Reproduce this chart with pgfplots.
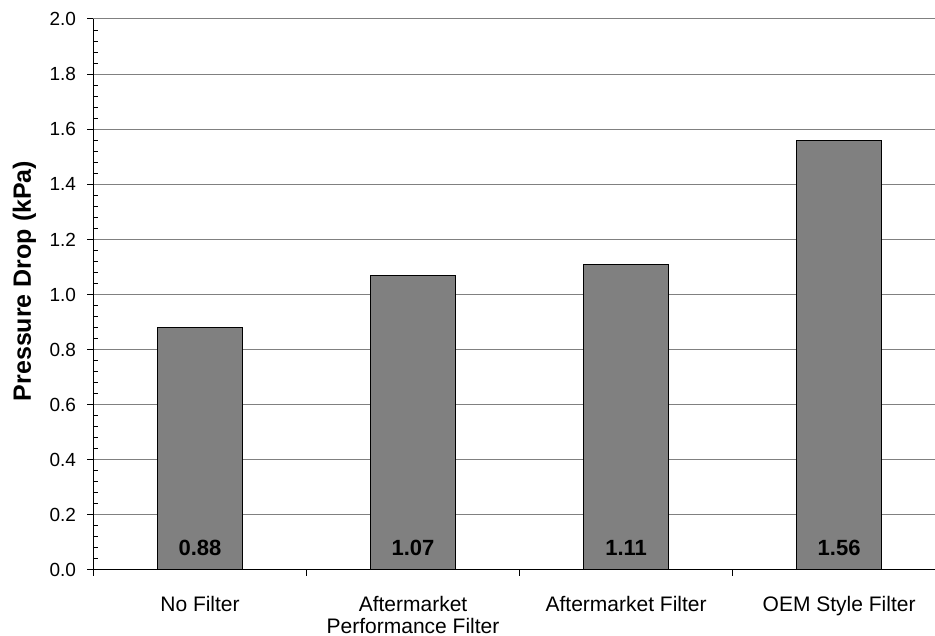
\documentclass[border=0pt]{standalone}
\usepackage{fontspec}
\setmainfont{Liberation Sans}
\usepackage{pgfplots}
\pgfplotsset{compat=1.18}
\definecolor{barfill}{HTML}{808080}
\definecolor{gridc}{HTML}{808080}
\newcommand{\twolines}[2]{\vtop{\halign{\hfil##\hfil\cr #1\cr #2\cr}}}
\begin{document}
\begin{tikzpicture}
    \begin{axis}[
            at={(0,0)}, anchor=south west,
            scale only axis, width=841.5pt, height=551pt,
            xmin=-0.5, xmax=3.45, ymin=0, ymax=2,
            axis x line*=bottom, axis y line*=left,
            axis line style={black, line width=1pt},
            xtick={0,1,2,3},
            xticklabels={No Filter, {\twolines{Aftermarket}{Performance Filter}}, Aftermarket Filter, OEM Style Filter},
            xtick style={draw=none},
            extra x ticks={-0.5,0.5,1.5,2.5},
            extra x tick labels={},
            extra x tick style={xtick style={draw=black, line width=1pt}, grid=none},
            ytick={0,0.2,...,2.0},
            minor y tick num=4,
            tick align=outside, major tick length=6pt, minor tick length=5pt,
            tick style={black, line width=1pt},
            minor y tick style={xshift=5pt},
            ymajorgrids, major y grid style={gridc, line width=1pt},
            yticklabel style={font=\fontsize{19}{22}\selectfont, xshift=-8pt,
                /pgf/number format/.cd, fixed, fixed zerofill, precision=1, assume math mode=true},
            xticklabel style={font=\fontsize{21}{22}\selectfont, anchor=base, inner sep=0pt, yshift=-36pt},
            ylabel={Pressure Drop (kPa)},
            ylabel style={font=\fontsize{25}{30}\selectfont\bfseries,
                at={(axis description cs:-0.082,0.5245)}, anchor=center},
        ]
        \addplot[ybar, bar width=85pt, fill=barfill, draw=black, line width=1pt] coordinates {
            (0, 0.88)
            (1, 1.07)
            (2, 1.11)
            (3, 1.56)
        };
        \addplot[draw=none, nodes near coords, point meta=explicit symbolic,
            every node near coord/.append style={anchor=base, yshift=14pt,
                font=\fontsize{22}{25}\selectfont\bfseries, text=black}] coordinates {
            (0, 0) [0.88]
            (1, 0) [1.07]
            (2, 0) [1.11]
            (3, 0) [1.56]
        };
    \end{axis}
    \pgfresetboundingbox
    \useasboundingbox (-93.5pt,-66pt) rectangle (841.5pt,570pt);
\end{tikzpicture}
\end{document}
